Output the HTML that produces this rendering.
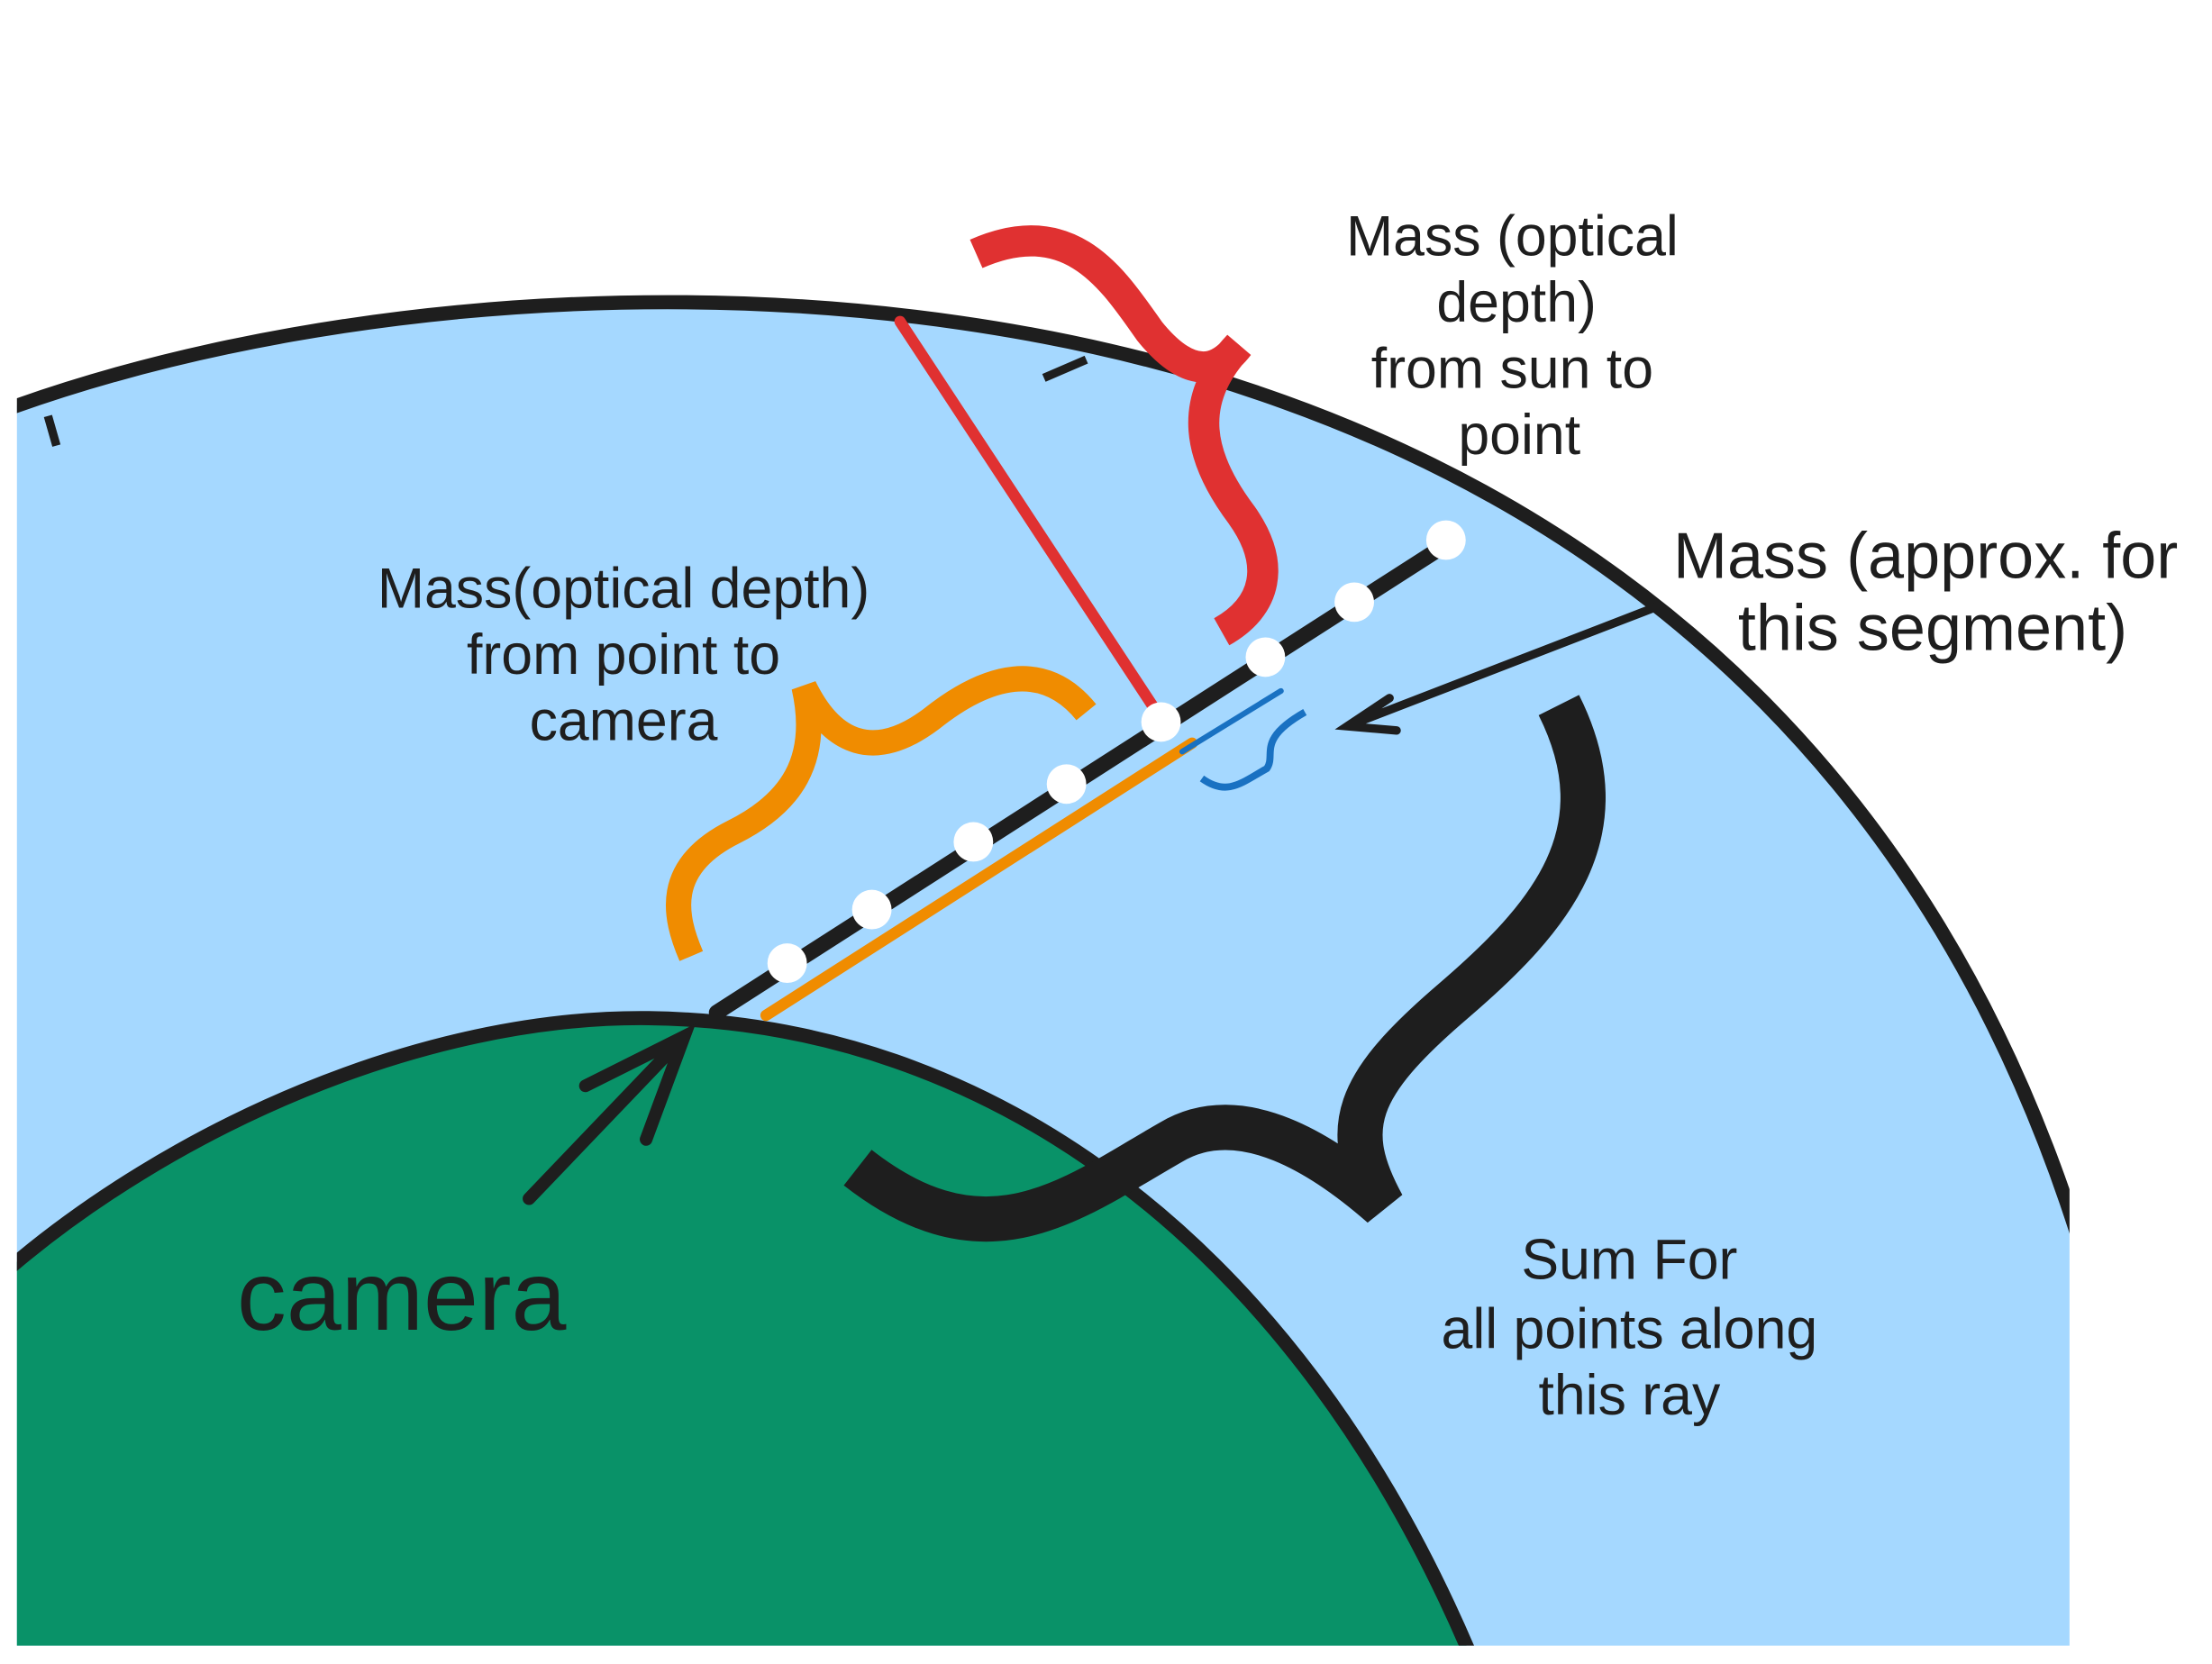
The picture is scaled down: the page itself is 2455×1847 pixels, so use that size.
<!DOCTYPE html>
<html><head><meta charset="utf-8"><style>
html,body{margin:0;padding:0;background:#fff;width:2455px;height:1847px;overflow:hidden}
svg{display:block}
text{font-family:"Liberation Sans",sans-serif;fill:#1e1e1e}
</style></head><body>
<svg width="2455" height="1847" viewBox="0 0 1568 1180" preserveAspectRatio="none" xmlns="http://www.w3.org/2000/svg">
<defs><clipPath id="c"><rect x="12" y="0" width="1455" height="1167"/></clipPath></defs>
<g clip-path="url(#c)">
<path d="M0,292 C250,200 620,180 910,285 C1160,375 1380,560 1480,900 L1480,1180 L0,1180 Z" fill="#a5d8ff"/>
<path d="M0,292 C250,200 620,180 910,285 C1160,375 1380,560 1480,900" fill="none" stroke="#1e1e1e" stroke-width="10"/>
<path d="M0,905 C120,800 300,720 460,722 C700,725 920,880 1045,1180 L0,1180 Z" fill="#099268" stroke="#1e1e1e" stroke-width="10"/>
</g>
<path d="M34,295 L40,316 M740,268 L770,255" stroke="#1e1e1e" stroke-width="6" fill="none"/>
<line x1="508" y1="718" x2="1030" y2="383" stroke="#1e1e1e" stroke-width="11" stroke-linecap="round"/>
<line x1="543" y1="720" x2="845" y2="527" stroke="#f08c00" stroke-width="8" stroke-linecap="round"/>
<line x1="838" y1="533" x2="908" y2="490" stroke="#1971c2" stroke-width="4" stroke-linecap="round"/>
<line x1="638" y1="228" x2="820" y2="505" stroke="#e03131" stroke-width="8" stroke-linecap="round"/>
<g fill="#fff">
<circle cx="558" cy="683" r="14"/><circle cx="618" cy="645" r="14"/><circle cx="690" cy="597" r="14"/><circle cx="756" cy="556" r="14"/><circle cx="823" cy="512" r="14"/><circle cx="897" cy="466" r="14"/><circle cx="960" cy="427" r="14"/><circle cx="1025" cy="383" r="14"/>
</g>
<path d="M692,180 C760,150 790,200 815,235 C845,272 865,262 878,245 C840,285 850,325 880,365 C905,400 898,430 866,448" fill="none" stroke="#e03131" stroke-width="22"/>
<path d="M770,505 C740,468 700,478 660,510 C620,540 590,528 570,487 C582,540 560,570 520,590 C470,615 478,650 490,678" fill="none" stroke="#f08c00" stroke-width="18"/>
<path d="M852,552 C870,565 880,555 898,545 C905,535 890,525 925,505" fill="none" stroke="#1971c2" stroke-width="5"/>
<path d="M1105,500 C1150,590 1100,650 1030,710 C960,770 950,800 980,855 C940,820 880,780 830,810 C760,850 700,900 608,828" fill="none" stroke="#1e1e1e" stroke-width="32"/>
<path d="M1175,430 L955,515 M985,495 L955,515 L990,518" fill="none" stroke="#1e1e1e" stroke-width="6" stroke-linecap="round"/>
<path d="M375,850 L485,735 M415,770 L485,735 L458,808" fill="none" stroke="#1e1e1e" stroke-width="9" stroke-linecap="round"/>
<g font-size="40" text-anchor="middle">
<text x="1072" y="181">Mass (optical<tspan x="1075" dy="47">depth)</tspan><tspan x="1072" dy="47">from sun to</tspan><tspan x="1077" dy="47">point</tspan></text>
<text x="442" y="431">Mass(optical depth)<tspan x="442" dy="47">from point to</tspan><tspan x="442" dy="47">camera</tspan></text>
<text x="1155" y="907">Sum For<tspan x="1155" dy="49">all points along</tspan><tspan x="1155" dy="47">this ray</tspan></text>
</g>
<text font-size="46" text-anchor="middle" x="1365" y="410">Mass (approx. for<tspan x="1370" dy="51">this segment)</tspan></text>
<text font-size="70" x="168" y="943">camera</text>
</svg>
</body></html>
